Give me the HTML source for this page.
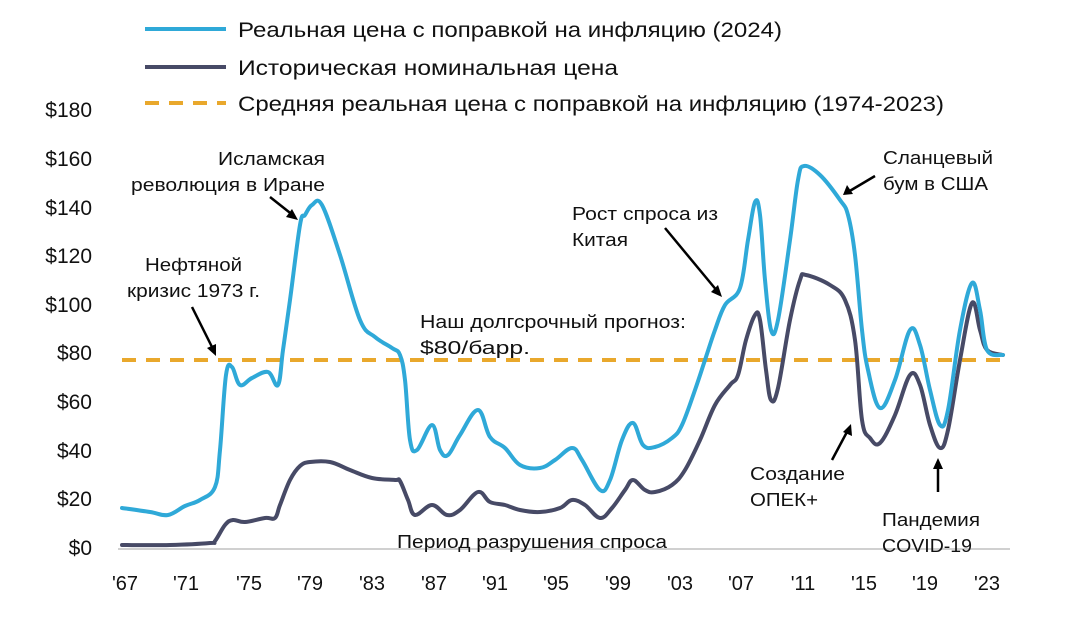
<!DOCTYPE html>
<html><head><meta charset="utf-8"><style>
html,body{margin:0;padding:0;background:#fff;}
svg{display:block;}
text{font-family:"Liberation Sans","DejaVu Sans",sans-serif;fill:#111;}
</style></head><body>
<svg id="s" width="1067" height="617" viewBox="0 0 1067 617" xmlns="http://www.w3.org/2000/svg">
<!-- legend -->
<line x1="145" y1="29" x2="226" y2="29" stroke="#2fa9d8" stroke-width="4"/>
<text x="238" y="37" font-size="21" textLength="544" lengthAdjust="spacingAndGlyphs">Реальная цена с поправкой на инфляцию (2024)</text>
<line x1="145" y1="67" x2="226" y2="67" stroke="#474a66" stroke-width="4"/>
<text x="238" y="75" font-size="21" textLength="380" lengthAdjust="spacingAndGlyphs">Историческая номинальная цена</text>
<line x1="145" y1="103" x2="226" y2="103" stroke="#e9a82c" stroke-width="4" stroke-dasharray="14,10"/>
<text x="238" y="111" font-size="21" textLength="706" lengthAdjust="spacingAndGlyphs">Средняя реальная цена с поправкой на инфляцию (1974-2023)</text>
<!-- y labels -->
<g font-size="21" text-anchor="end">
<text x="92" y="117">$180</text><text x="92" y="166">$160</text><text x="92" y="215">$140</text>
<text x="92" y="263">$120</text><text x="92" y="312">$100</text><text x="92" y="360">$80</text>
<text x="92" y="409">$60</text><text x="92" y="458">$40</text><text x="92" y="506">$20</text>
<text x="92" y="555">$0</text></g>
<!-- x labels -->
<g font-size="20" text-anchor="middle">
<text x="125" y="590">'67</text><text x="186" y="590">'71</text><text x="249" y="590">'75</text>
<text x="310" y="590">'79</text><text x="372" y="590">'83</text><text x="434" y="590">'87</text>
<text x="495" y="590">'91</text><text x="556" y="590">'95</text><text x="618" y="590">'99</text>
<text x="680" y="590">'03</text><text x="741" y="590">'07</text><text x="803" y="590">'11</text>
<text x="864" y="590">'15</text><text x="925" y="590">'19</text><text x="987" y="590">'23</text></g>
<line x1="118" y1="549" x2="1010" y2="549" stroke="#d0d0d0" stroke-width="2"/>
<line x1="122" y1="360" x2="1003" y2="360" stroke="#e9a82c" stroke-width="4" stroke-dasharray="14,10"/>
<!-- navy -->
<polyline class="sm" fill="none" stroke="#474a66" stroke-width="4" stroke-linejoin="round" stroke-linecap="round" points="122,545 170,545 210,543 215,541 225,525 233,520 245,522 265,518 275,518 280,505 290,480 300,466 310,462 330,462 350,470 372,478 395,480 400,481 408,500 415,515 432,505 447,515 460,510 478,492 490,502 505,505 520,510 540,512 560,508 572,500 585,505 600,518 612,508 625,490 633,480 645,490 655,492 672,485 685,470 700,440 715,405 730,385 738,375 746,340 755,315 760,320 766,370 771,400 778,388 790,320 800,280 806,275 830,285 845,300 855,340 862,420 870,438 880,443 895,415 910,375 920,385 930,425 940,448 948,430 960,360 972,303 980,330 987,350 1003,355"/>
<!-- blue -->
<polyline class="sm" fill="none" stroke="#2fa9d8" stroke-width="4" stroke-linejoin="round" stroke-linecap="round" points="122,508 150,512 168,515 185,506 200,500 215,487 220,450 226,375 232,367 240,385 252,378 268,372 278,385 283,350 290,300 300,225 305,215 312,205 322,205 340,255 360,320 375,337 392,348 400,355 405,380 410,440 417,450 432,425 440,450 448,455 460,435 478,410 490,437 505,448 520,465 540,468 555,460 572,448 582,460 600,490 610,480 622,440 633,423 643,445 655,447 672,438 682,425 695,390 705,360 715,330 725,305 740,288 748,240 755,202 760,215 765,280 771,330 778,320 790,240 798,180 804,166 820,175 840,200 848,215 855,255 862,330 868,370 880,408 895,380 910,330 920,345 930,390 940,425 948,410 960,330 972,283 980,310 987,350 1003,355"/>
<!-- annotations -->
<g font-size="18">
<text x="218" y="165" textLength="107" lengthAdjust="spacingAndGlyphs">Исламская</text>
<text x="131" y="191" textLength="194" lengthAdjust="spacingAndGlyphs">революция в Иране</text>
<text x="145" y="271" textLength="97" lengthAdjust="spacingAndGlyphs">Нефтяной</text>
<text x="127" y="297" textLength="133" lengthAdjust="spacingAndGlyphs">кризис 1973 г.</text>
<text x="420" y="328" textLength="266" lengthAdjust="spacingAndGlyphs">Наш долгсрочный прогноз:</text>
<text x="420" y="354" textLength="110" lengthAdjust="spacingAndGlyphs">$80/барр.</text>
<text x="572" y="220" textLength="146" lengthAdjust="spacingAndGlyphs">Рост спроса из</text>
<text x="572" y="246" textLength="56" lengthAdjust="spacingAndGlyphs">Китая</text>
<text x="883" y="164" textLength="110" lengthAdjust="spacingAndGlyphs">Сланцевый</text>
<text x="883" y="190" textLength="105" lengthAdjust="spacingAndGlyphs">бум в США</text>
<text x="750" y="480" textLength="95" lengthAdjust="spacingAndGlyphs">Создание</text>
<text x="750" y="506" textLength="68" lengthAdjust="spacingAndGlyphs">ОПЕК+</text>
<text x="882" y="526" textLength="98" lengthAdjust="spacingAndGlyphs">Пандемия</text>
<text x="882" y="552" textLength="90" lengthAdjust="spacingAndGlyphs">COVID-19</text>
<text x="397" y="548" textLength="270" lengthAdjust="spacingAndGlyphs">Период разрушения спроса</text>
</g>
<g stroke="#000" stroke-width="2.5" fill="none">
<line x1="270" y1="197" x2="294" y2="216"/>
<line x1="192" y1="307" x2="213" y2="349"/>
<line x1="665" y1="228" x2="718" y2="292"/>
<line x1="875" y1="176" x2="848" y2="192"/>
<line x1="832" y1="460" x2="848" y2="430"/>
<line x1="938" y1="492" x2="938" y2="466"/>
</g>
<g fill="#000">
<polygon points="298,220 286,217 292,209"/>
<polygon points="216,356 207,348 216,344"/>
<polygon points="722,297 711,292 718,285"/>
<polygon points="843,195 847,185 853,194"/>
<polygon points="851,424 852,436 843,432"/>
<polygon points="938,458 943,469 933,469"/>
</g>
</svg>
<script>
document.querySelectorAll('polyline.sm').forEach(function(pl){
  var p=pl.getAttribute('points').trim().split(/\s+/).map(function(s){return s.split(',').map(Number);});
  var d='M'+p[0][0]+','+p[0][1];
  for(var i=0;i<p.length-1;i++){
    var p0=p[i-1]||p[i],p1=p[i],p2=p[i+1],p3=p[i+2]||p2,t=0.18;
    var c1x=p1[0]+(p2[0]-p0[0])*t,c1y=p1[1]+(p2[1]-p0[1])*t;
    var c2x=p2[0]-(p3[0]-p1[0])*t,c2y=p2[1]-(p3[1]-p1[1])*t;
    d+=' C'+c1x.toFixed(1)+','+c1y.toFixed(1)+' '+c2x.toFixed(1)+','+c2y.toFixed(1)+' '+p2[0]+','+p2[1];
  }
  var path=document.createElementNS('http://www.w3.org/2000/svg','path');
  ['fill','stroke','stroke-width','stroke-linejoin','stroke-linecap'].forEach(function(a){path.setAttribute(a,pl.getAttribute(a));});
  path.setAttribute('d',d);
  pl.parentNode.replaceChild(path,pl);
});
</script>
</body></html>
